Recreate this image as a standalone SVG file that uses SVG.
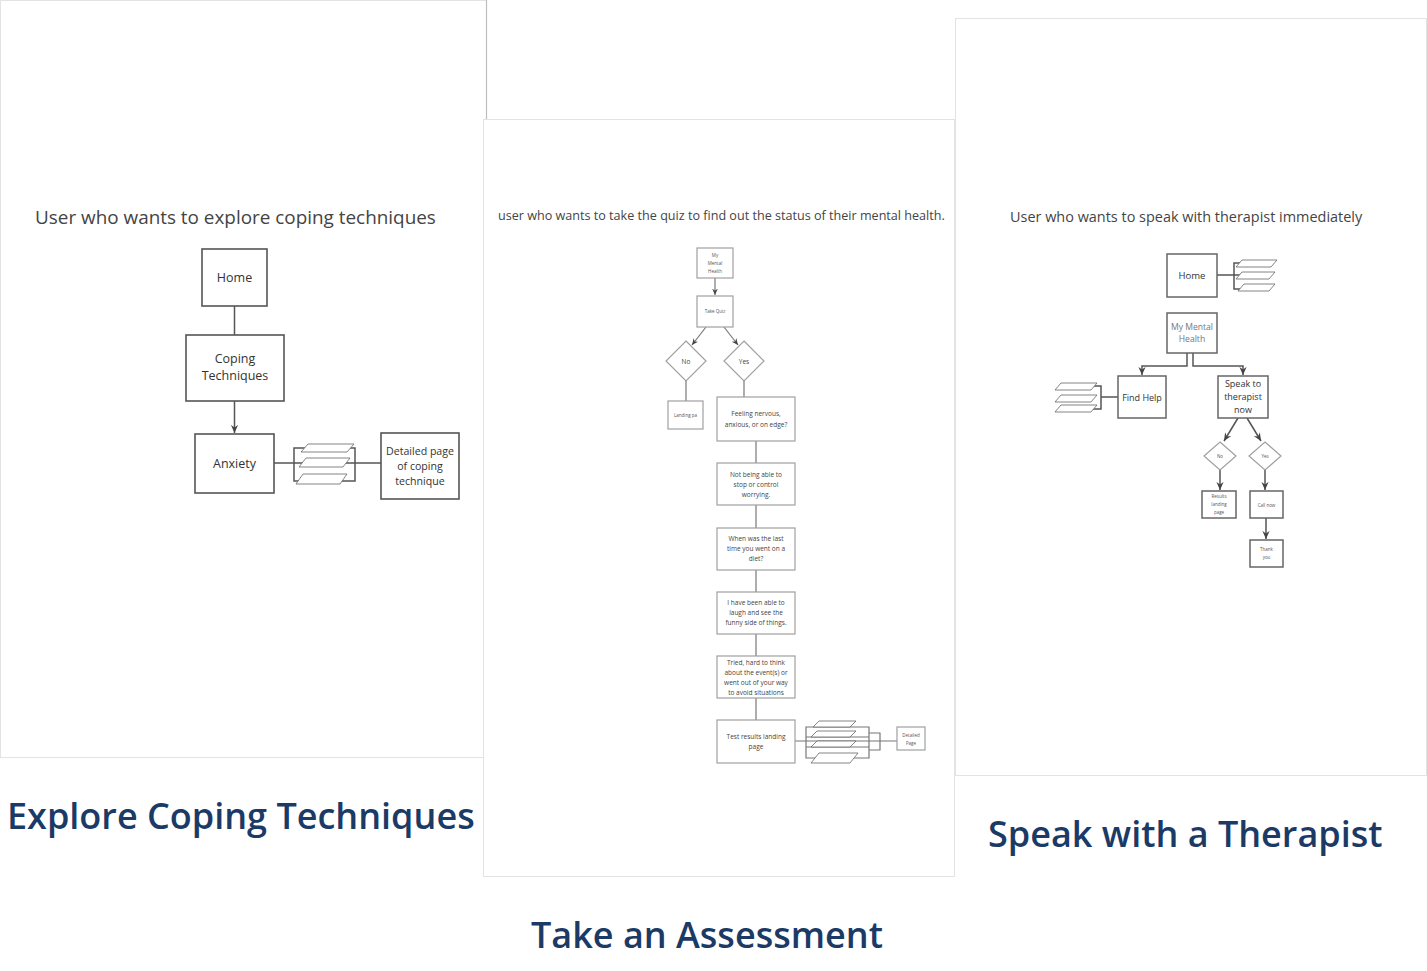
<svg xmlns="http://www.w3.org/2000/svg" width="1427" height="971" viewBox="0 0 1427 971">
<defs>
<style>
.panel{fill:#fff;stroke:#e3e3e3;stroke-width:1}
.t{font-family:"Open Sans","Noto Sans","Liberation Sans",sans-serif;fill:#444}
.cap{font-family:"Open Sans","Noto Sans","Liberation Sans",sans-serif;fill:#1b3a66;font-size:36px;font-weight:600}
.bx{fill:#fff;stroke:#555;stroke-width:1.6}
.bm{fill:#fff;stroke:#a0a0a0;stroke-width:1.2}
.br{fill:#fff;stroke:#666;stroke-width:1.5}
.ln{fill:none;stroke:#555;stroke-width:1.5}
.lm{fill:none;stroke:#777;stroke-width:1.2}
.pg{fill:#fff;stroke:#666;stroke-width:0.8}
.l{font-size:12.5px;text-anchor:middle;fill:#333}
.ld{font-size:10.6px;text-anchor:middle;fill:#333}
.m{font-size:6.5px;text-anchor:middle;fill:#444}
.s{font-size:4.5px;text-anchor:middle;fill:#555}
.r{font-size:9.5px;text-anchor:middle;fill:#333}
.r2{font-size:9px;text-anchor:middle;fill:#333}
.rg{font-size:8.6px;text-anchor:middle;fill:#777}
</style>
<marker id="ah" viewBox="0 0 10 10" refX="9" refY="5" markerWidth="6" markerHeight="6" orient="auto"><path d="M0,1 L9,5 L0,9 L3,5 z" fill="#444"/></marker>
</defs>
<rect width="1427" height="971" fill="#fff"/>
<!-- panels -->
<rect class="panel" x="0.5" y="0.5" width="486" height="757"/>
<line x1="486.5" y1="0" x2="486.5" y2="119" stroke="#bdbdbd" stroke-width="1.2"/>
<rect class="panel" x="483.5" y="119.5" width="471" height="757"/>
<rect class="panel" x="955.5" y="18.5" width="471" height="757"/>

<!-- captions -->
<text class="cap" x="7" y="829">Explore Coping Techniques</text>
<text class="cap" x="531" y="948">Take an Assessment</text>
<text class="cap" x="988" y="847">Speak with a Therapist</text>

<!-- titles -->
<text class="t" x="35" y="224" font-size="18.9">User who wants to explore coping techniques</text>
<text class="t" x="498" y="220" font-size="12.6">user who wants to take the quiz to find out the status of their mental health.</text>
<text class="t" x="1010" y="222" font-size="14.45">User who wants to speak with therapist immediately</text>

<!-- connectors -->
<g id="connectors">
  <!-- left -->
  <line class="ln" x1="234.5" y1="306" x2="234.5" y2="335"/>
  <line class="ln" x1="234.5" y1="401" x2="234.5" y2="433" marker-end="url(#ah)"/>
  <line class="ln" x1="274" y1="463" x2="381" y2="463"/>
  <rect class="ln" x="294" y="448" width="61" height="33" stroke-width="1.3"/>
  <!-- middle -->
  <line class="lm" x1="715" y1="278" x2="715" y2="295" marker-end="url(#ah)"/>
  <line class="lm" x1="706" y1="327" x2="692" y2="345" marker-end="url(#ah)"/>
  <line class="lm" x1="724" y1="327" x2="738" y2="345" marker-end="url(#ah)"/>
  <line class="lm" x1="686" y1="381" x2="686" y2="401"/>
  <line class="lm" x1="744" y1="381" x2="744" y2="397"/>
  <line class="lm" x1="756" y1="441" x2="756" y2="463"/>
  <line class="lm" x1="756" y1="505" x2="756" y2="528"/>
  <line class="lm" x1="756" y1="570" x2="756" y2="592"/>
  <line class="lm" x1="756" y1="634" x2="756" y2="656"/>
  <line class="lm" x1="756" y1="698" x2="756" y2="720"/>
  <line class="lm" x1="795" y1="741" x2="897" y2="741"/>
  <path class="lm" d="M806,727 H869 V758 H806 Z M806,737 H869 M806,747 H869 M869,733 H880 V750 H869"/>
  <!-- right -->
  <line class="ln" x1="1217" y1="275" x2="1245" y2="275"/>
  <path class="ln" d="M1245,263 H1234 V289 H1245" stroke-width="1.2"/>
  <path class="ln" d="M1187,353 V366 H1142 V375" marker-end="url(#ah)"/>
  <path class="ln" d="M1193,353 V366 H1243 V375" marker-end="url(#ah)"/>
  <line class="ln" x1="1101" y1="397" x2="1118" y2="397"/>
  <path class="ln" d="M1090,386 H1101 V409 H1090" stroke-width="1.2"/>
  <line class="ln" x1="1238" y1="418" x2="1224" y2="441" marker-end="url(#ah)"/>
  <line class="ln" x1="1247" y1="418" x2="1261" y2="441" marker-end="url(#ah)"/>
  <line class="ln" x1="1220" y1="470" x2="1220" y2="490" marker-end="url(#ah)"/>
  <line class="ln" x1="1265" y1="470" x2="1265" y2="490" marker-end="url(#ah)"/>
  <line class="ln" x1="1266" y1="518" x2="1266" y2="539" marker-end="url(#ah)"/>
</g>

<!-- LEFT nodes -->
<g id="l-home"><rect class="bx" x="202" y="249" width="65" height="57"/><text class="t l" x="234.5" y="282">Home</text></g>
<g id="l-coping"><rect class="bx" x="186" y="335" width="98" height="66"/><text class="t l" x="235" y="363">Coping</text><text class="t l" x="235" y="380">Techniques</text></g>
<g id="l-anxiety"><rect class="bx" x="195" y="434" width="79" height="59"/><text class="t l" x="234.5" y="468">Anxiety</text></g>
<g id="l-list">
  <path class="pg" d="M308,444 H354 L347,452 H301 Z"/>
  <path class="pg" d="M306,458 H350 L343,467 H299 Z"/>
  <path class="pg" d="M303,474 H347 L340,484 H296 Z"/>
</g>
<g id="l-detail"><rect class="bx" x="381" y="433" width="78" height="66"/><text class="t ld" x="420" y="455">Detailed page</text><text class="t ld" x="420" y="470">of coping</text><text class="t ld" x="420" y="485">technique</text></g>

<!-- MIDDLE nodes -->
<g id="m-mmh"><rect class="bm" x="697" y="248" width="36" height="30"/><text class="t s" x="715" y="257">My</text><text class="t s" x="715" y="265">Mental</text><text class="t s" x="715" y="273">Health</text></g>
<g id="m-quiz"><rect class="bm" x="697" y="296" width="36" height="31"/><text class="t s" x="715" y="313">Take Quiz</text></g>
<g id="m-no"><path class="bm" d="M686,341 L706,361 L686,381 L666,361 Z"/><text class="t m" x="686" y="363.5">No</text></g>
<g id="m-yes"><path class="bm" d="M744,341 L764,361 L744,381 L724,361 Z"/><text class="t m" x="744" y="363.5">Yes</text></g>
<g id="m-landing"><rect class="bm" x="668" y="401" width="35" height="28"/><text class="t s" x="685.5" y="416.5">Landing pa</text></g>
<g id="m-q1"><rect class="bm" x="717" y="397" width="78" height="44"/><text class="t m" x="756" y="416">Feeling nervous,</text><text class="t m" x="756" y="427">anxious, or on edge?</text></g>
<g id="m-q2"><rect class="bm" x="717" y="463" width="78" height="42"/><text class="t m" x="756" y="477">Not being able to</text><text class="t m" x="756" y="487">stop or control</text><text class="t m" x="756" y="497">worrying.</text></g>
<g id="m-q3"><rect class="bm" x="717" y="528" width="78" height="42"/><text class="t m" x="756" y="541">When was the last</text><text class="t m" x="756" y="551">time you went on a</text><text class="t m" x="756" y="561">diet?</text></g>
<g id="m-q4"><rect class="bm" x="717" y="592" width="78" height="42"/><text class="t m" x="756" y="605">I have been able to</text><text class="t m" x="756" y="615">laugh and see the</text><text class="t m" x="756" y="625">funny side of things.</text></g>
<g id="m-q5"><rect class="bm" x="717" y="656" width="78" height="42"/><text class="t m" x="756" y="665">Tried, hard to think</text><text class="t m" x="756" y="675">about the event(s) or</text><text class="t m" x="756" y="685">went out of your way</text><text class="t m" x="756" y="695">to avoid situations</text></g>
<g id="m-results"><rect class="bm" x="717" y="720" width="78" height="43"/><text class="t m" x="756" y="739">Test results landing</text><text class="t m" x="756" y="749">page</text></g>
<g id="m-list">
  <path class="pg" d="M819,721 H856 L850,727 H813 Z"/>
  <path class="pg" d="M817,731 H856 L850,737 H811 Z"/>
  <path class="pg" d="M817,741 H856 L850,747 H811 Z"/>
  <path class="pg" d="M819,753 H858 L850,763 H811 Z"/>
</g>
<g id="m-detail"><rect class="bm" x="897" y="727" width="28" height="23"/><text class="t s" x="911" y="737">Detailed</text><text class="t s" x="911" y="745">Page</text></g>

<!-- RIGHT nodes -->
<g id="r-home"><rect class="br" x="1167" y="254" width="50" height="43"/><text class="t r" x="1192" y="279">Home</text></g>
<g id="r-homelist">
  <path class="pg" d="M1242,260 H1277 L1271,267 H1236 Z"/>
  <path class="pg" d="M1242,272 H1275 L1269,279 H1236 Z"/>
  <path class="pg" d="M1244,284 H1275 L1269,291 H1238 Z"/>
</g>
<g id="r-mmh"><rect class="br" x="1167" y="313" width="50" height="40"/><text class="t rg" x="1192" y="330">My Mental</text><text class="t rg" x="1192" y="342">Health</text></g>
<g id="r-find"><rect class="br" x="1118" y="376" width="48" height="42"/><text class="t r2" x="1142" y="400.5">Find Help</text></g>
<g id="r-findlist">
  <path class="pg" d="M1061,383 H1097 L1091,390 H1055 Z"/>
  <path class="pg" d="M1061,395 H1097 L1091,402 H1055 Z"/>
  <path class="pg" d="M1061,405 H1097 L1091,412 H1055 Z"/>
</g>
<g id="r-speak"><rect class="br" x="1218" y="376" width="50" height="42"/><text class="t r2" x="1243" y="387">Speak to</text><text class="t r2" x="1243" y="400">therapist</text><text class="t r2" x="1243" y="413">now</text></g>
<g id="r-no"><path class="bm" d="M1220,442 L1236,456 L1220,470 L1204,456 Z"/><text class="t s" x="1220" y="458">No</text></g>
<g id="r-yes"><path class="bm" d="M1265,442 L1281,456 L1265,470 L1249,456 Z"/><text class="t s" x="1265" y="458">Yes</text></g>
<g id="r-landing"><rect class="br" x="1202" y="491" width="34" height="27"/><text class="t s" x="1219" y="498">Results</text><text class="t s" x="1219" y="506">landing</text><text class="t s" x="1219" y="514">page</text></g>
<g id="r-call"><rect class="br" x="1250" y="491" width="33" height="27"/><text class="t s" x="1266.5" y="506.5">Call now</text></g>
<g id="r-thanks"><rect class="br" x="1250" y="540" width="33" height="27"/><text class="t s" x="1266.5" y="551">Thank</text><text class="t s" x="1266.5" y="559">you</text></g>
</svg>
